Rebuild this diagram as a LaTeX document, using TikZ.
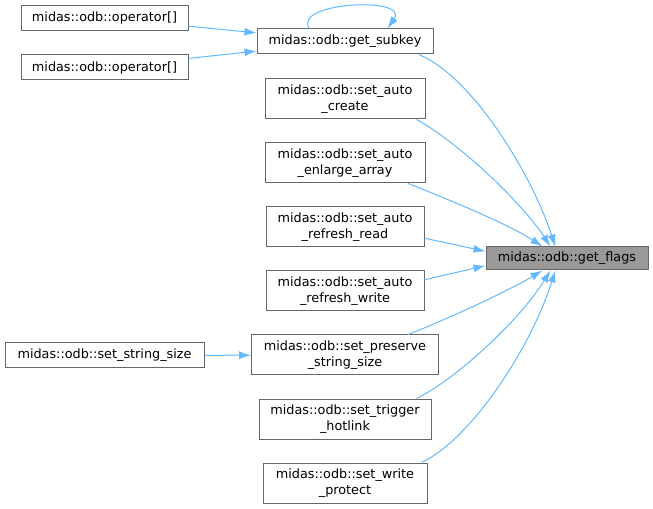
\documentclass[tikz,border=0pt]{standalone}
\usepackage{fontspec}
\setmainfont{DejaVu Sans}
\usetikzlibrary{arrows.meta}
\definecolor{edgeblue}{HTML}{63B8FF}
\definecolor{boxgray}{HTML}{666666}
\definecolor{flagfill}{HTML}{999999}
\begin{document}
\begin{tikzpicture}[x=0.75pt, y=-0.75pt,
		fn/.style={draw=boxgray, fill=white, line width=0.75pt, inner sep=0pt, align=center, minimum height=18.75pt, font=\fontsize{9.6}{11.5}\selectfont},
		fntwo/.style={fn, minimum height=30pt},
		call/.style={draw=edgeblue, line width=0.75pt, -{Latex[length=9pt, width=6pt]}}]
		\useasboundingbox (0,0) rectangle (653,509);
		\node[fn, minimum width=125.25pt] (op1) at (104.5,18) {midas::odb::operator[]};
		\node[fn, minimum width=125.25pt] (op2) at (104.5,67.5) {midas::odb::operator[]};
		\node[fn, minimum width=132pt] (gs) at (345,41.5) {midas::odb::get\_subkey};
		\node[fntwo, minimum width=120pt] (cr) at (345,99) {midas::odb::set\_auto\\\_create};
		\node[fntwo, minimum width=120pt] (en) at (345,163) {midas::odb::set\_auto\\\_enlarge\_array};
		\node[fntwo, minimum width=118.5pt] (rr) at (345,227) {midas::odb::set\_auto\\\_refresh\_read};
		\node[fntwo, minimum width=118.5pt] (rw) at (345,291) {midas::odb::set\_auto\\\_refresh\_write};
		\node[fn, minimum width=149.25pt] (ss) at (104.5,355.5) {midas::odb::set\_string\_size};
		\node[fntwo, minimum width=140.25pt] (ps) at (345,355) {midas::odb::set\_preserve\\\_string\_size};
		\node[fntwo, minimum width=129pt] (th) at (345,419) {midas::odb::set\_trigger\\\_hotlink};
		\node[fntwo, minimum width=123pt] (wp) at (345,483) {midas::odb::set\_write\\\_protect};
		\node[fn, fill=flagfill, minimum width=121.5pt, minimum height=17.25pt] (gf) at (567,258.5) {midas::odb::get\_flags};
		\draw[call] (op1) -- (gs);
		\draw[call] (op2) -- (gs);
		\draw[call] (gs.160) .. controls (292,2) and (410,-4) .. (gs.17);
		\draw[call] (gs.-10) .. controls (470,75) and (530,170) .. (gf.134);
		\draw[call] (cr.-16) .. controls (455,140) and (520,200) .. (gf.144);
		\draw[call] (en.-18) .. controls (450,200) and (510,225) .. (gf.154);
		\draw[call] (rr.-8) -- (gf.175);
		\draw[call] (rw.8) -- (gf.185);
		\draw[call] (ss) -- (ps);
		\draw[call] (ps.18) .. controls (450,318) and (510,290) .. (gf.206);
		\draw[call] (th.16) .. controls (455,380) and (520,320) .. (gf.216);
		\draw[call] (wp.15) .. controls (470,440) and (530,350) .. (gf.226);
	\end{tikzpicture}
\end{document}
